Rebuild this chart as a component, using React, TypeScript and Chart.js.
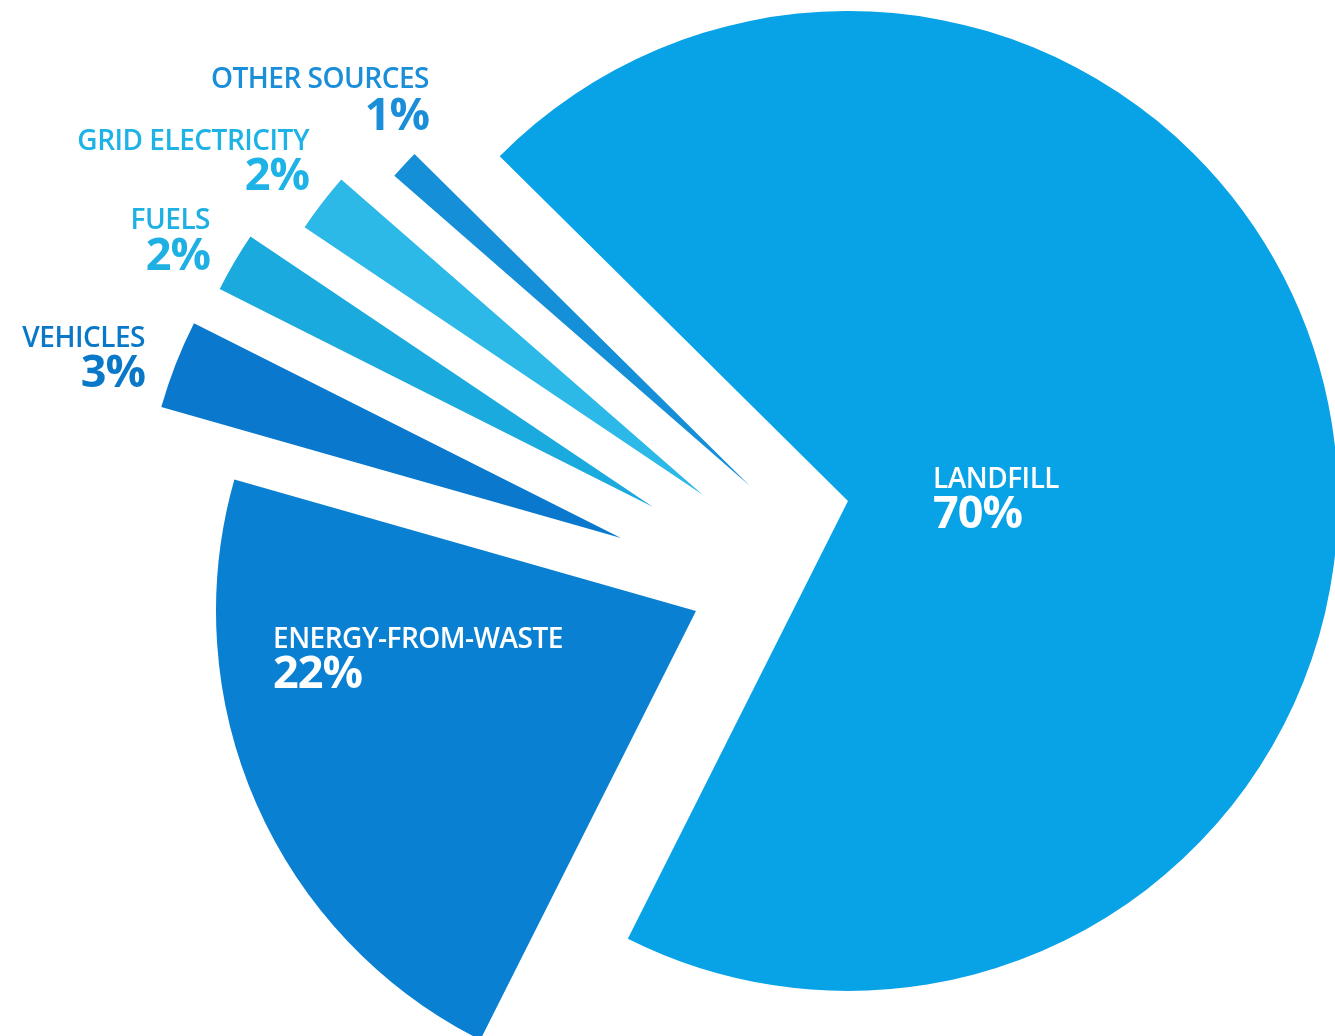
import React, { useEffect, useRef } from "react";
import { Chart, registerables } from "chart.js";

Chart.register(...registerables);

// ---- data ----
const categories = ["LANDFILL", "ENERGY-FROM-WASTE", "VEHICLES", "FUELS", "GRID ELECTRICITY", "OTHER SOURCES"];
const shares = [70, 22, 3, 2, 2, 1];
const percentLabels = ["70%", "22%", "3%", "2%", "2%", "1%"];

// ---- styles ----
const sliceColors = ["#08a3e6", "#0a80d2", "#0a79cd", "#1aaade", "#2db9e8", "#1590d8"];
const labelColors = ["#ffffff", "#ffffff", "#0a78c8", "#1eb0e3", "#1eb3e6", "#1a8ed8"];
// each piece is cut out and moved apart (explode shift in px, relative to the pie centre)
const sliceShiftX = [0, -152, -227, -195, -145, -98];
const sliceShiftY = [0, 110, 37, 6, -6, -15];
const sliceRadius = [490, 480, 478, 485, 480, 472];
// label boxes: anchor x, baseline y of name, baseline y of percent, alignment
const labelX = [933, 273, 145, 210, 309, 429];
const labelNameBase = [488, 648, 347, 229, 150, 88];
const labelPctBase = [528, 688, 387, 270, 190, 130];
const labelAlign = ["left", "left", "right", "right", "right", "right"];

const W = 1335;
const H = 1036;
const PIE_CX = 848;
const PIE_CY = 501;

const explodePlugin = {
  id: "explode",
  afterDatasetUpdate(chart: any, args: any) {
    const meta = chart.getDatasetMeta(args.index);
    meta.data.forEach((arc: any, i: number) => {
      arc.x += sliceShiftX[i];
      arc.y += sliceShiftY[i];
      arc.outerRadius = sliceRadius[i];
    });
  },
};

const NAME_SIZE = 28;
const PCT_SIZE = 45;
const FONT = "'Open Sans', 'Noto Sans', sans-serif";

function Label({ i }: { i: number }) {
  const align = labelAlign[i] as "left" | "right";
  const nameTop = labelNameBase[i] - 0.888 * NAME_SIZE;
  const pctTop = labelPctBase[i] - 0.888 * PCT_SIZE;
  const common: React.CSSProperties = {
    position: "absolute",
    whiteSpace: "nowrap",
    fontFamily: FONT,
    color: labelColors[i],
    lineHeight: 1,
  };
  const posStyle = (top: number): React.CSSProperties =>
    align === "left" ? { left: labelX[i], top } : { right: W - labelX[i], top };
  return (
    <>
      <div style={{ ...common, ...posStyle(nameTop), fontSize: NAME_SIZE, fontWeight: 600, letterSpacing: -0.5 }}>
        {categories[i]}
      </div>
      <div style={{ ...common, ...posStyle(pctTop), fontSize: PCT_SIZE, fontWeight: 700, letterSpacing: -1 }}>
        {percentLabels[i]}
      </div>
    </>
  );
}

export default function App() {
  const canvasRef = useRef<HTMLCanvasElement | null>(null);

  useEffect(() => {
    const canvas = canvasRef.current;
    if (!canvas) return;
    const chart = new Chart(canvas, {
      type: "pie",
      data: {
        labels: categories,
        datasets: [
          {
            data: shares,
            backgroundColor: sliceColors,
            borderWidth: 0,
          },
        ],
      },
      options: {
        responsive: false,
        maintainAspectRatio: false,
        devicePixelRatio: 1,
        animation: false,
        events: [],
        rotation: -45.3,
        radius: sliceRadius[0],
        layout: {
          padding: { left: 2 * PIE_CX - W, right: 0, top: 0, bottom: H - 2 * PIE_CY },
        },
        plugins: {
          legend: { display: false },
          tooltip: { enabled: false },
        },
      },
      plugins: [explodePlugin],
    });
    return () => chart.destroy();
  }, []);

  return (
    <div style={{ position: "absolute", left: 0, top: 0, width: W, height: H, background: "#ffffff", overflow: "hidden" }}>
      <canvas ref={canvasRef} width={W} height={H} style={{ position: "absolute", left: 0, top: 0, width: W, height: H }} />
      {categories.map((_, i) => (
        <Label key={i} i={i} />
      ))}
    </div>
  );
}
